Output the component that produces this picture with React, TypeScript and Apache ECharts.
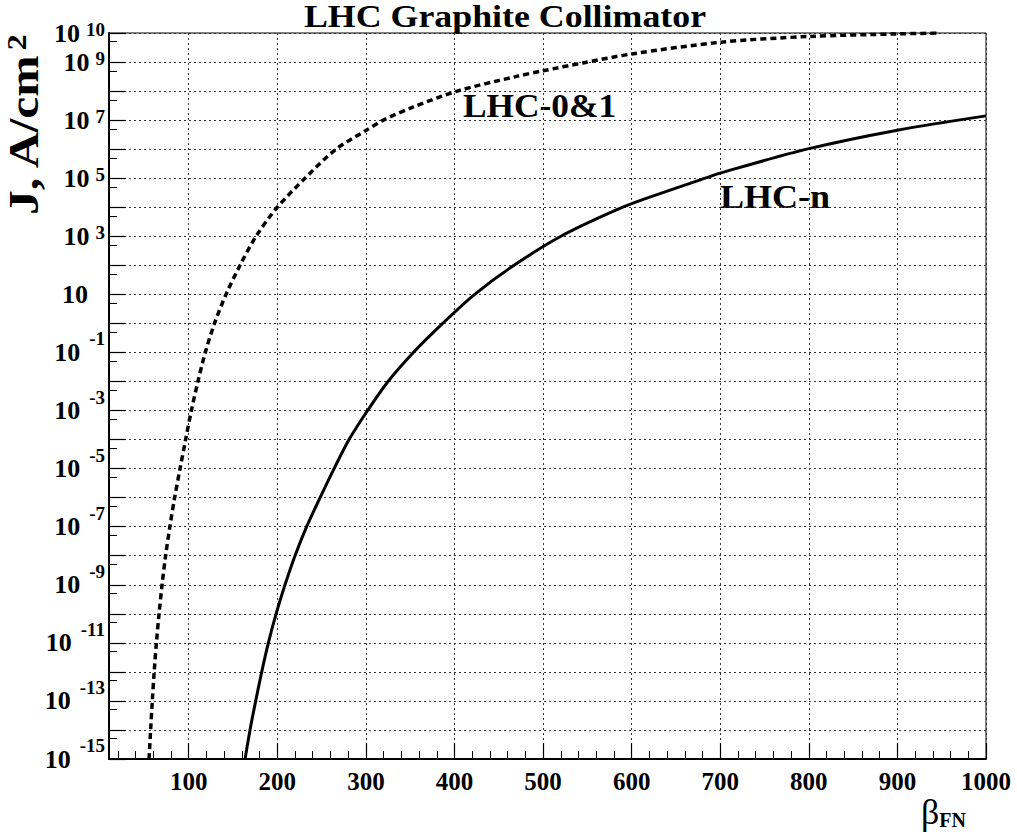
import React, { useEffect, useRef } from "react";
import * as echarts from "echarts";

// ---- axis ticks ----
const xMajorTicks = [100, 200, 300, 400, 500, 600, 700, 800, 900, 1000];
const xMinorTicks: number[] = [];
for (let v = 20; v < 1000; v += 20) if (v % 100 !== 0) xMinorTicks.push(v);
const yMajorExponents = [-15, -14, -13, -12, -11, -10, -9, -8, -7, -6, -5, -4, -3, -2, -1, 0, 1, 2, 3, 4, 5, 6, 7, 8, 9, 10];
const yMajorTicks = yMajorExponents.map((e) => Math.pow(10, e));
const yMinorTicks = yMajorExponents.filter((e) => e < 10).map((e) => 5 * Math.pow(10, e));
const yLabelExponents = [-15, -13, -11, -9, -7, -5, -3, -1, 1, 3, 5, 7, 9, 10];
const yLabelValues = yLabelExponents.map((e) => Math.pow(10, e));

// ---- series: LHC-0&1 (dotted) ----
const lhc01Beta = [55.2, 57.0, 58.9, 61.0, 63.5, 66.5, 69.9, 73.9, 78.7, 84.1, 90.2, 96.5, 103.0, 110.4, 118.7, 129.1, 142.1, 157.9, 176.0, 200.0, 231.3, 266.3, 300, 319.7, 353, 403, 470, 500, 545, 600, 700, 800, 900, 948];
const lhc01J = [1e-15, 1e-14, 1e-13, 1e-12, 1e-11, 1e-10, 1e-9, 1e-8, 1e-7, 1e-6, 1e-5, 1e-4, 1e-3, 1e-2, 1e-1, 1, 10, 100, 1e3, 1e4, 1e5, 1e6, 4.4e6, 1e7, 2.8e7, 1e8, 3.2e8, 5.0e8, 9.3e8, 1.9e9, 4.8e9, 7.6e9, 9.3e9, 1e10];

// ---- series: LHC-n (solid) ----
const lhcNBeta = [163.6, 169.2, 175.6, 182.4, 189.9, 198.6, 208.7, 220, 233.1, 248.3, 264.1, 281.0, 301.9, 325.0, 353.6, 386.7, 422.8, 467.2, 520.2, 590, 632, 683, 700, 797.7, 900, 1000];
const lhcNJ = [1e-15, 1e-14, 1e-13, 1e-12, 1e-11, 1e-10, 1e-9, 1e-8, 1e-7, 1e-6, 1e-5, 1e-4, 1e-3, 1e-2, 1e-1, 1, 10, 100, 1e3, 1e4, 2.95e4, 1e5, 1.5e5, 1e6, 4.5e6, 1.4e7];

const FONT = "Liberation Serif";

export default function App() {
  const ref = useRef<HTMLDivElement>(null);
  useEffect(() => {
    if (!ref.current) return;
    const chart = echarts.init(ref.current, undefined, { renderer: "svg" });
    const gridLine = { show: true, lineStyle: { color: "#333", width: 1, type: [2, 3] as any } };
    const baseStyle = { fontSize: 26, fontWeight: "bold", fontFamily: FONT, color: "#000", verticalAlign: "middle" };
    chart.setOption({
      animation: false,
      backgroundColor: "#fff",
      grid: { left: 109, top: 33, width: 877, height: 726, show: true, borderColor: "#000", borderWidth: 1, containLabel: false },
      xAxis: [
        {
          type: "value", min: 10, max: 1000, splitNumber: 10, position: "bottom",
          axisLine: { show: true, onZero: false, lineStyle: { color: "#000", width: 2 } },
          axisTick: { show: true, inside: true, length: 16, customValues: xMajorTicks, lineStyle: { color: "#000", width: 1.2 } },
          axisLabel: {
            show: true, customValues: xMajorTicks, margin: 10, color: "#000", fontSize: 25, fontWeight: "bold", fontFamily: FONT,
            showMaxLabel: true, formatter: (v: number) => String(v),
          },
          splitLine: gridLine,
        },
        {
          type: "value", min: 10, max: 1000, position: "bottom",
          axisLine: { show: false },
          axisTick: { show: true, inside: true, length: 8, customValues: xMinorTicks, lineStyle: { color: "#000", width: 1 } },
          axisLabel: { show: false },
          splitLine: { show: false },
        },
      ],
      yAxis: [
        {
          type: "log", logBase: 10, min: 1e-15, max: 1e10, position: "left",
          axisLine: { show: true, onZero: false, lineStyle: { color: "#000", width: 2 } },
          axisTick: { show: true, inside: true, length: 17, customValues: yMajorTicks, lineStyle: { color: "#000", width: 1.2 } },
          axisLabel: {
            show: true, customValues: yLabelValues, margin: 4, color: "#000", showMaxLabel: true, showMinLabel: true, hideOverlap: false,
            formatter: (v: number) => {
              const e = Math.round(Math.log10(v));
              if (e === 1) return "{b|10}{p|\u00a0}";
              if (e < 0) return "{c|10}{gn|\u00a0}{e|" + e + "}";
              return "{b|10}{g|\u00a0}{e|" + e + "}";
            },
            rich: {
              b: { ...baseStyle, lineHeight: 26 },
              c: { ...baseStyle, lineHeight: 46 },
              e: { fontSize: 19, fontWeight: "bold", fontFamily: FONT, color: "#000", lineHeight: 10, verticalAlign: "top" },
              g: { fontSize: 10, width: 6, lineHeight: 10, verticalAlign: "middle" },
              gn: { fontSize: 10, width: 9, lineHeight: 10, verticalAlign: "middle" },
              p: { fontSize: 10, width: 17, lineHeight: 10, verticalAlign: "middle" },
            },
          },
          splitLine: gridLine,
        },
        {
          type: "log", logBase: 10, min: 1e-15, max: 1e10, position: "left",
          axisLine: { show: false },
          axisTick: { show: true, inside: true, length: 8, customValues: yMinorTicks, lineStyle: { color: "#000", width: 1 } },
          axisLabel: { show: false },
          splitLine: { show: false },
        },
      ],
      series: [
        {
          name: "LHC-0&1", type: "line", xAxisIndex: 0, yAxisIndex: 0, showSymbol: false, symbol: "none",
          smooth: 0.3,
          data: lhc01Beta.map((b, i) => [b, lhc01J[i]]),
          lineStyle: { color: "#000", width: 3.5, type: [6, 4] as any, cap: "butt", join: "round" },
        },
        {
          name: "LHC-n", type: "line", xAxisIndex: 0, yAxisIndex: 0, showSymbol: false, symbol: "none",
          smooth: 0.3,
          data: lhcNBeta.map((b, i) => [b, lhcNJ[i]]),
          lineStyle: { color: "#000", width: 3, join: "round" },
        },
      ],
      graphic: [
        {
          type: "text", x: 505, y: 16, scaleX: 1.12,
          style: { text: "LHC Graphite Collimator", fontSize: 32, fontWeight: "bold", fontFamily: FONT, fill: "#000", align: "center", verticalAlign: "middle" },
        },
        {
          type: "text", x: 24, y: 215, rotation: Math.PI / 2, scaleX: 1.18,
          style: {
            text: "{a|J, A/cm}{s|2}", align: "left", verticalAlign: "middle",
            rich: {
              a: { fontSize: 42, fontWeight: "bold", fontFamily: FONT, fill: "#000", lineHeight: 42, padding: [8, 0, 0, 0], verticalAlign: "bottom" },
              s: { fontSize: 27, fontWeight: "bold", fontFamily: FONT, fill: "#000", lineHeight: 27, verticalAlign: "top", padding: [0, 0, 0, 2] },
            },
          },
        },
        {
          type: "text", x: 966, y: 812,
          style: {
            text: "{b|\u03b2}{s|FN}", align: "right", verticalAlign: "middle",
            rich: {
              b: { fontSize: 36, fontFamily: FONT, fill: "#000", lineHeight: 36, verticalAlign: "middle" },
              s: { fontSize: 20, fontWeight: "bold", fontFamily: FONT, fill: "#000", lineHeight: 20, verticalAlign: "bottom" },
            },
          },
        },
        {
          type: "text", x: 463, y: 106, scaleX: 1.04,
          style: { text: "LHC-0&1", fontSize: 34, fontWeight: "bold", fontFamily: FONT, fill: "#000", align: "left", verticalAlign: "middle" },
        },
        {
          type: "text", x: 720, y: 197, scaleX: 1.06,
          style: { text: "LHC-n", fontSize: 34, fontWeight: "bold", fontFamily: FONT, fill: "#000", align: "left", verticalAlign: "middle" },
        },
      ],
    });
    return () => chart.dispose();
  }, []);
  return <div ref={ref} style={{ position: "absolute", left: 0, top: 0, width: 1017, height: 832, background: "#fff" }} />;
}
